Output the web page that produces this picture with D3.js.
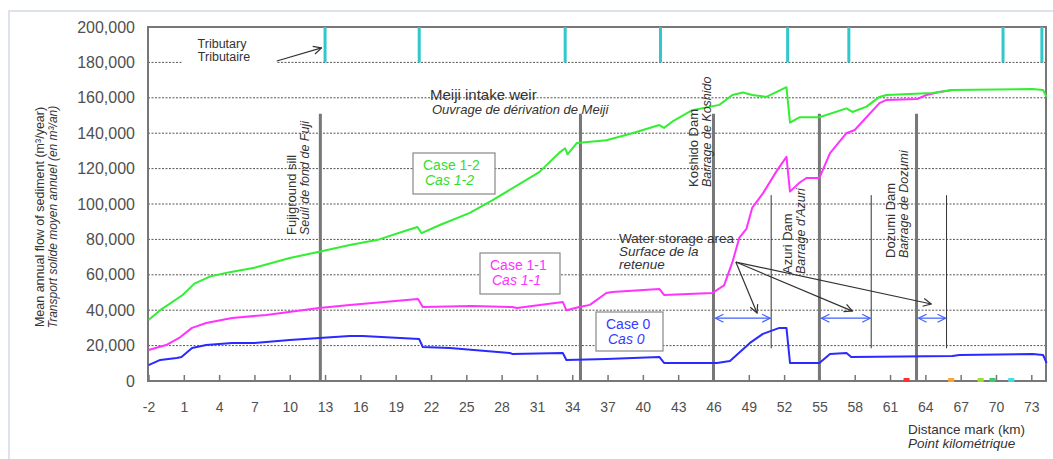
<!DOCTYPE html>
<html lang="en">
<head>
<meta charset="UTF-8">
<title>Mean annual flow of sediment</title>
<script src="https://cdn.jsdelivr.net/npm/d3@7"></script>
<style>
    body { margin: 0; background: #fff; }
    text { font-family: "Liberation Sans", Arial, sans-serif; }
</style>
</head>
<body>
<script>
    // distance mark (km) and sediment flow (m3/year) for each case
    var case12Km   = [-2, -1, 0.9, 1.9, 3.2, 4.9, 7.0, 10.0, 12.5, 15.1, 17.6, 19.9, 20.85, 21.2, 22.7, 25.3, 27.2, 31.2, 32.9, 33.4, 33.6, 34.4, 36.9, 39.1, 41.4, 41.8, 42.6, 44.2, 46.5, 47.6, 48.5, 49.3, 50.5, 52.2, 52.5, 53.3, 55.0, 57.3, 57.8, 59.0, 60.1, 60.7, 64.6, 66.3, 73.1, 74.0, 74.3];
    var case12Flow = [34500, 40000, 48600, 55000, 59000, 61500, 64000, 69500, 73000, 76800, 80000, 85000, 87000, 83500, 88000, 95000, 102000, 118000, 129000, 131500, 128000, 134500, 136000, 140000, 144600, 143000, 147000, 153000, 156000, 161600, 163000, 161600, 160500, 166000, 146000, 149000, 149000, 154000, 152000, 155000, 160500, 161600, 162700, 164400, 165000, 164400, 160500];

    var case11Km   = [-2, -0.5, 0.6, 1.7, 2.9, 5.1, 8.0, 12.5, 15.1, 20.9, 21.3, 25.5, 28.9, 29.3, 33.2, 33.5, 34.6, 35.5, 36.9, 37.4, 41.4, 41.8, 45.9, 46.9, 47.6, 48.2, 48.8, 49.3, 50.2, 51.4, 52.2, 52.5, 53.3, 53.9, 55.0, 55.9, 57.3, 58.0, 60.1, 60.7, 63.3, 64.1, 65.2, 66.3];
    var case11Flow = [17500, 20300, 24300, 30000, 32800, 35600, 37300, 41200, 43000, 46300, 41800, 42400, 41800, 41200, 44600, 40000, 41800, 43000, 49700, 50300, 52000, 48600, 49700, 54000, 67000, 81000, 86000, 98000, 106000, 119000, 126600, 107000, 112000, 114700, 114700, 128800, 140000, 141800, 157000, 158800, 159300, 161600, 163300, 164400];

    var case0Km    = [-2, -1, 0.4, 0.8, 1.7, 2.9, 5.1, 7.0, 10.0, 12.5, 15.1, 16.2, 21.0, 21.3, 23.6, 28.7, 28.9, 33.2, 33.5, 36.9, 41.4, 41.8, 46.3, 47.4, 49.1, 50.2, 51.6, 52.2, 52.5, 55.0, 55.9, 57.3, 57.7, 66.3, 66.9, 73.1, 74.0, 74.3];
    var case0Flow  = [9000, 11900, 13000, 13600, 18600, 20300, 21500, 21500, 23200, 24300, 25400, 25400, 23700, 19200, 18600, 15800, 15300, 15800, 11900, 12400, 13600, 10200, 10200, 11300, 21500, 26600, 30000, 30000, 10200, 10200, 15300, 15800, 13600, 14100, 14700, 15300, 14700, 10200];

    // axis ticks
    var xTicks = [-2, 1, 4, 7, 10, 13, 16, 19, 22, 25, 28, 31, 34, 37, 40, 43, 46, 49, 52, 55, 58, 61, 64, 67, 70, 73];
    var yTicks = [0, 20000, 40000, 60000, 80000, 100000, 120000, 140000, 160000, 180000, 200000];

    // tributary confluences (km)
    var tributaryKm = [13.0, 21.0, 33.4, 41.5, 52.3, 57.5, 70.6, 73.9];

    // structures: Fujiground sill, Meiji weir, Koshido, Azuri, Dozumi dams
    var structureKm = [12.6, 34.7, 46.0, 55.0, 63.25];
    var structureTop = 151000;

    // reservoir (water storage area) limits
    var reservoirStart = [46.0, 55.0, 63.25];
    var reservoirEnd = [50.9, 59.4, 65.8];
    var reservoirLevel = 35500;

    // arrows from the "water storage area" label
    var arrowFrom = [47.9, 67200];
    var arrowToKm = [49.7, 57.8, 64.5];
    var arrowToFlow = [38400, 39500, 43500];

    // little coloured marks on the axis
    var dotKm = [62.4, 66.2, 68.7, 69.7, 71.3];
    var dotColor = ["#ff3030", "#ffa030", "#a0dd30", "#40c870", "#40dddd"];

    var width = 1053, height = 459;
    var plotL = 148, plotR = 1046, plotT = 27, plotB = 381;

    var svg = d3.select("body").append("svg")
        .attr("width", width)
        .attr("height", height);

    var defs = svg.append("defs");
    defs.append("marker").attr("id", "headBlack")
        .attr("viewBox", "0 0 10 10").attr("refX", 9).attr("refY", 5)
        .attr("markerWidth", 10).attr("markerHeight", 10).attr("markerUnits", "userSpaceOnUse")
        .attr("orient", "auto")
        .append("path").attr("d", "M1,1 L9,5 L1,9").attr("fill", "none").attr("stroke", "#333").attr("stroke-width", 1.2);
    defs.append("marker").attr("id", "headBlue")
        .attr("viewBox", "0 0 10 10").attr("refX", 9).attr("refY", 5)
        .attr("markerWidth", 10).attr("markerHeight", 10).attr("markerUnits", "userSpaceOnUse")
        .attr("orient", "auto-start-reverse")
        .append("path").attr("d", "M1,1 L9,5 L1,9").attr("fill", "none").attr("stroke", "#4060ff").attr("stroke-width", 1.2);

    // outer light frame
    svg.append("rect").attr("x", 9).attr("y", 11).attr("width", 1100).attr("height", 500)
        .attr("fill", "none").attr("stroke", "#dde2ec").attr("stroke-width", 2);

    var x = d3.scaleLinear().domain([-2, 74.25]).range([148.5, 1046]);
    var y = d3.scaleLinear().domain([0, 200000]).range([plotB, plotT]);

    // grid
    svg.append("g")
        .selectAll("line")
        .data(yTicks.filter(function (d) { return d > 0 && d < 200000; }))
        .enter().append("line")
        .attr("x1", plotL).attr("x2", plotR)
        .attr("y1", function (d) { return y(d); })
        .attr("y2", function (d) { return y(d); })
        .attr("stroke", "#555").attr("stroke-width", 1)
        .attr("stroke-dasharray", "2,1.5");

    // y axis labels
    var yAxis = svg.append("g").attr("transform", "translate(" + plotL + ",0)")
        .call(d3.axisLeft(y).tickValues(yTicks).tickFormat(d3.format(",")).tickSize(0).tickPadding(13));
    yAxis.select(".domain").remove();
    yAxis.selectAll("text").attr("font-size", 16).attr("fill", "#505050")
        .attr("font-family", "Liberation Sans, Arial, sans-serif");

    // x axis
    var xAxis = svg.append("g").attr("transform", "translate(0," + plotB + ")")
        .call(d3.axisBottom(x).tickValues(xTicks)
            .tickFormat(function (d) { return String(d); })
            .tickSizeInner(-6).tickSizeOuter(0).tickPadding(21));
    xAxis.select(".domain").remove();
    xAxis.selectAll("line").attr("stroke", "#777").attr("stroke-width", 1.5);
    xAxis.selectAll("text").attr("font-size", 14).attr("fill", "#505050")
        .attr("font-family", "Liberation Sans, Arial, sans-serif");

    // plot frame
    svg.append("rect").attr("x", plotL).attr("y", plotT)
        .attr("width", plotR - plotL).attr("height", plotB - plotT)
        .attr("fill", "none").attr("stroke", "#777").attr("stroke-width", 2);

    // tributaries
    svg.append("g").selectAll("line").data(tributaryKm).enter().append("line")
        .attr("x1", function (d) { return x(d); }).attr("x2", function (d) { return x(d); })
        .attr("y1", y(200000)).attr("y2", y(180000))
        .attr("stroke", "#30c8cc").attr("stroke-width", 3);

    // tributary label
    svg.append("rect").attr("x", 183).attr("y", 34).attr("width", 94).attr("height", 32).attr("fill", "#fff");
    svg.append("text").attr("x", 222).attr("y", 48).attr("text-anchor", "middle")
        .attr("font-size", 12.5).attr("fill", "#333").text("Tributary");
    svg.append("text").attr("x", 224).attr("y", 61).attr("text-anchor", "middle")
        .attr("font-size", 12.5).attr("fill", "#333").text("Tributaire");
    svg.append("line")
        .attr("x1", x(8.9)).attr("y1", y(180800))
        .attr("x2", x(12.7)).attr("y2", y(188200))
        .attr("stroke", "#333").attr("stroke-width", 1.2).attr("marker-end", "url(#headBlack)");

    // structures
    svg.append("g").selectAll("line").data(structureKm).enter().append("line")
        .attr("x1", function (d) { return x(d); }).attr("x2", function (d) { return x(d); })
        .attr("y1", y(structureTop)).attr("y2", plotB)
        .attr("stroke", "#777").attr("stroke-width", 3);

    // reservoir upstream limits
    svg.append("g").selectAll("line").data(reservoirEnd).enter().append("line")
        .attr("x1", function (d) { return x(d); }).attr("x2", function (d) { return x(d); })
        .attr("y1", y(105000)).attr("y2", y(18500))
        .attr("stroke", "#333").attr("stroke-width", 1);

    // blue double arrows
    svg.append("g").selectAll("line").data(reservoirStart).enter().append("line")
        .attr("x1", function (d) { return x(d) + 2; })
        .attr("x2", function (d, i) { return x(reservoirEnd[i]) - 1; })
        .attr("y1", y(reservoirLevel)).attr("y2", y(reservoirLevel))
        .attr("stroke", "#4060ff").attr("stroke-width", 1.2)
        .attr("marker-start", "url(#headBlue)").attr("marker-end", "url(#headBlue)");

    // series
    var line = d3.line()
        .x(function (d) { return x(d[0]); })
        .y(function (d) { return y(d[1]); });

    var series = [
        { km: case0Km, flow: case0Flow, color: "#2a2aff" },
        { km: case11Km, flow: case11Flow, color: "#ff33ff" },
        { km: case12Km, flow: case12Flow, color: "#33ee33" }
    ];
    series.forEach(function (s) {
        svg.append("path")
            .datum(d3.zip(s.km, s.flow))
            .attr("d", line)
            .attr("fill", "none")
            .attr("stroke", s.color)
            .attr("stroke-width", 2)
            .attr("stroke-linejoin", "round");
    });

    // arrows from the water storage label
    svg.append("g").selectAll("line").data(arrowToKm).enter().append("line")
        .attr("x1", x(arrowFrom[0])).attr("y1", y(arrowFrom[1]))
        .attr("x2", function (d) { return x(d); })
        .attr("y2", function (d, i) { return y(arrowToFlow[i]); })
        .attr("stroke", "#333").attr("stroke-width", 1.2)
        .attr("marker-end", "url(#headBlack)");

    // coloured marks
    svg.append("g").selectAll("rect").data(dotKm).enter().append("rect")
        .attr("x", function (d) { return x(d) - 3; })
        .attr("y", y(0) - 3).attr("width", 6).attr("height", 4)
        .attr("fill", function (d, i) { return dotColor[i]; });

    // annotations
    function label(px, py, str, size, italic, color) {
        return svg.append("text").attr("x", px).attr("y", py)
            .attr("font-size", size)
            .attr("font-style", italic ? "italic" : "normal")
            .attr("fill", color || "#333")
            .text(str);
    }
    label(430, 100, "Meiji intake weir", 15, false);
    label(432, 114, "Ouvrage de dérivation de Meiji", 13, true);
    label(619, 243, "Water storage area", 13.5, false);
    label(619, 256, "Surface de la", 13.5, true);
    label(619, 269, "retenue", 13.5, true);
    label(908, 434, "Distance mark  (km)", 13.5, false);
    label(908, 448, "Point kilométrique", 13.5, true);

    // rotated labels
    function vlabel(px, py, str, size, italic) {
        svg.append("text")
            .attr("transform", "translate(" + px + "," + py + ") rotate(-90)")
            .attr("font-size", size)
            .attr("font-style", italic ? "italic" : "normal")
            .attr("fill", "#333")
            .text(str);
    }
    vlabel(296, 235, "Fujiground sill", 13, false);
    vlabel(309, 235, "Seuil de fond de Fuji", 12.5, true);
    vlabel(698, 187, "Koshido Dam", 13, false);
    vlabel(711, 187, "Barrage de Koshido", 12.5, true);
    vlabel(792, 274, "Azuri Dam", 13, false);
    vlabel(805, 274, "Barrage d'Azuri", 12.5, true);
    vlabel(895, 258, "Dozumi Dam", 13, false);
    vlabel(908, 258, "Barrage de Dozumi", 12.5, true);

    // y axis title
    svg.append("text").attr("transform", "translate(44,217) rotate(-90)")
        .attr("text-anchor", "middle").attr("font-size", 12.5).attr("fill", "#333")
        .text("Mean annual flow of sediment (m³/year)");
    svg.append("text").attr("transform", "translate(57,217) rotate(-90)")
        .attr("text-anchor", "middle").attr("font-size", 12).attr("font-style", "italic").attr("fill", "#333")
        .text("Transport solide moyen annuel (en m³/an)");

    // case boxes
    var boxes = [
        { x: 413, y: 153, w: 82, h: 41, a: "Case 1-2", b: "Cas 1-2", color: "#33dd33" },
        { x: 480, y: 253, w: 80, h: 41, a: "Case 1-1", b: "Cas 1-1", color: "#ff33ff" },
        { x: 596, y: 312, w: 67, h: 39, a: "Case 0", b: "Cas 0", color: "#3a3aff" }
    ];
    boxes.forEach(function (b) {
        svg.append("rect").attr("x", b.x).attr("y", b.y).attr("width", b.w).attr("height", b.h)
            .attr("fill", "#fff").attr("stroke", "#888").attr("stroke-width", 1.2);
        label(b.x + 10, b.y + 17, b.a, 14, false, b.color);
        label(b.x + 12, b.y + 32, b.b, 14, true, b.color);
    });
</script>
</body>
</html>
